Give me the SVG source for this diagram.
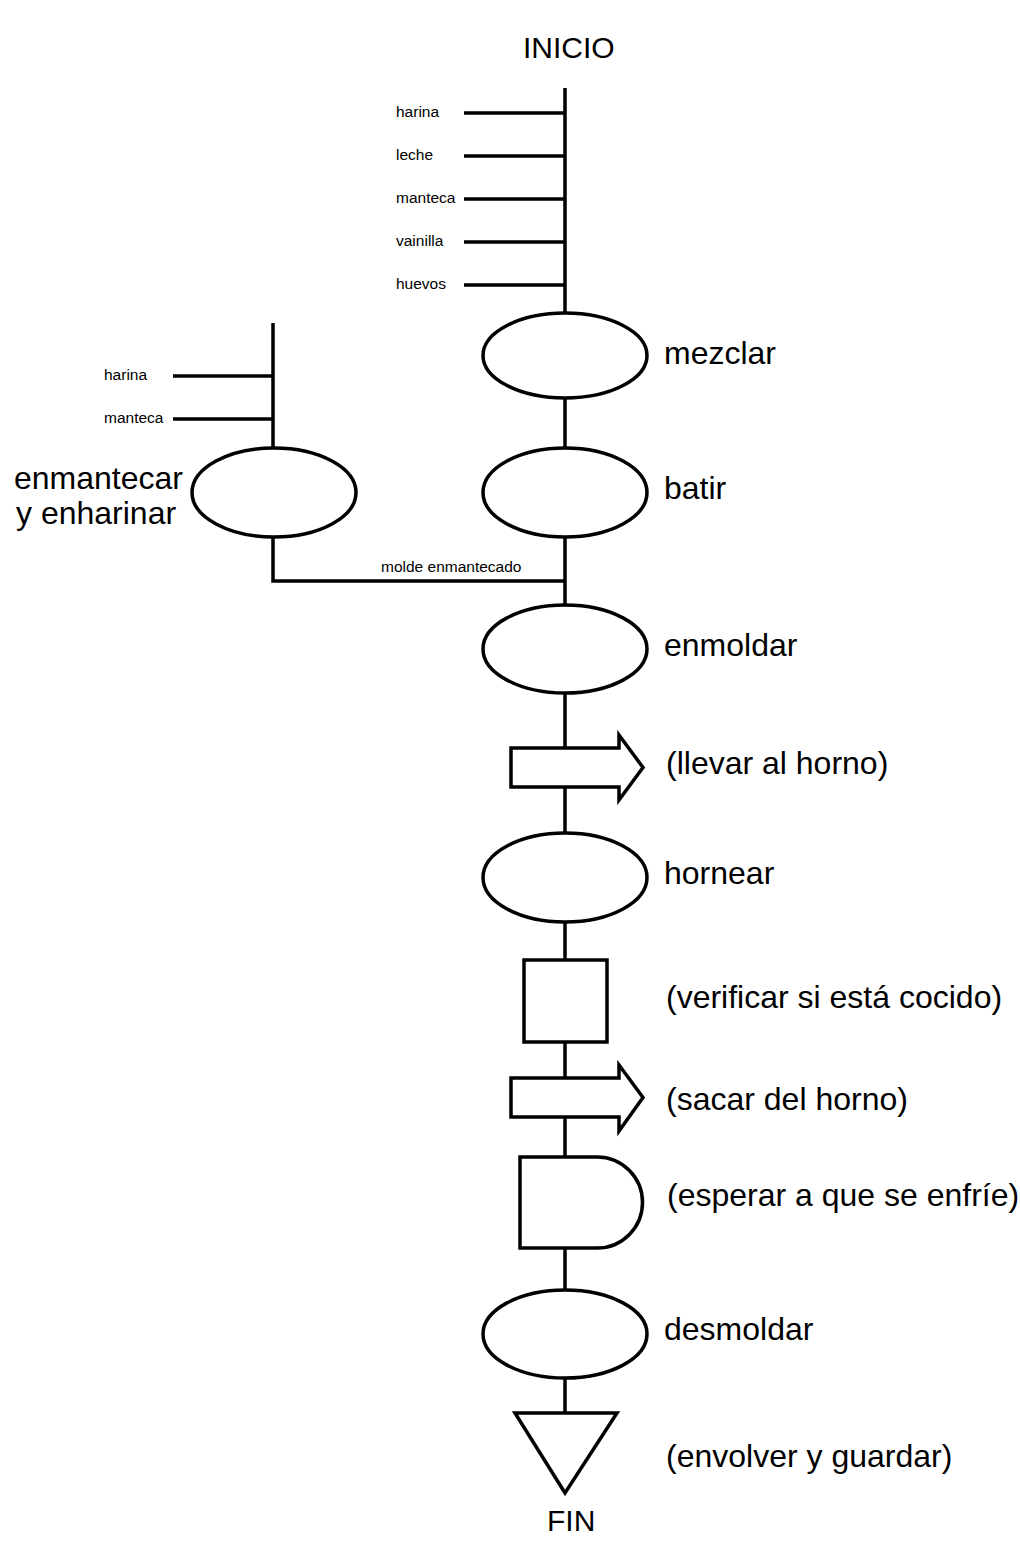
<svg xmlns="http://www.w3.org/2000/svg" width="1020" height="1554" viewBox="0 0 1020 1554">
<style>
.s{fill:#fff;stroke:#000;stroke-width:3.5}
.c{fill:none;stroke:#000;stroke-width:3.5;stroke-linecap:butt}
.t{font-family:"Liberation Sans",Arial,sans-serif;fill:#000}
.L{font-size:32px}
.M{font-size:30px}
.S{font-size:15.5px}
</style>
<rect width="1020" height="1554" fill="#fff"/>
<g id="connectors">
<path class="c" d="M565,88V313M565,398V448M565,537V605M565,693V748M565,787V833M565,922V960M565,1042V1078M565,1117V1157M565,1248V1290M565,1378V1413"/>
<path class="c" d="M464,113H565M464,156H565M464,199H565M464,242H565M464,285H565"/>
<path class="c" d="M273,323V448M173,376H273M173,419H273M273,537V581H565"/>
</g>
<g id="inicio"><text class="t M" x="523" y="58">INICIO</text></g>
<g id="ingredientes" class="t S">
<text x="396" y="117">harina</text>
<text x="396" y="160">leche</text>
<text x="396" y="203">manteca</text>
<text x="396" y="246">vainilla</text>
<text x="396" y="289">huevos</text>
<text x="104" y="380">harina</text>
<text x="104" y="423">manteca</text>
<text x="381" y="572">molde enmantecado</text>
</g>
<g id="mezclar"><ellipse class="s" cx="565" cy="355.5" rx="82" ry="42.5"/><text class="t L" x="664" y="364">mezclar</text></g>
<g id="batir"><ellipse class="s" cx="565" cy="492.5" rx="82" ry="44.5"/><text class="t L" x="664" y="499">batir</text></g>
<g id="enmantecar"><ellipse class="s" cx="274" cy="492.5" rx="82" ry="44.5"/><text class="t L" x="14" y="489">enmantecar</text><text class="t L" x="16" y="524">y enharinar</text></g>
<g id="enmoldar"><ellipse class="s" cx="565" cy="649" rx="82" ry="44"/><text class="t L" x="664" y="656">enmoldar</text></g>
<g id="llevar"><path class="s" d="M511,748H619V735L643,767.5L619,800V787H511Z"/><text class="t L" x="666" y="774">(llevar al horno)</text></g>
<g id="hornear"><ellipse class="s" cx="565" cy="877.5" rx="82" ry="44.5"/><text class="t L" x="664" y="884">hornear</text></g>
<g id="verificar"><rect class="s" x="524" y="960" width="83" height="82"/><text class="t L" x="666" y="1008">(verificar si está cocido)</text></g>
<g id="sacar"><path class="s" d="M511,1078H619V1065L643,1097.5L619,1131V1117H511Z"/><text class="t L" x="666" y="1110">(sacar del horno)</text></g>
<g id="esperar"><path class="s" d="M520,1157H597A45.5,45.5 0 0 1 597,1248H520Z"/><text class="t L" x="667" y="1206">(esperar a que se enfríe)</text></g>
<g id="desmoldar"><ellipse class="s" cx="565" cy="1334" rx="82" ry="44"/><text class="t L" x="664" y="1340">desmoldar</text></g>
<g id="fin"><path class="s" d="M515,1413H617L565,1493Z"/><text class="t L" x="666" y="1467">(envolver y guardar)</text><text class="t M" x="547" y="1531">FIN</text></g>
</svg>
